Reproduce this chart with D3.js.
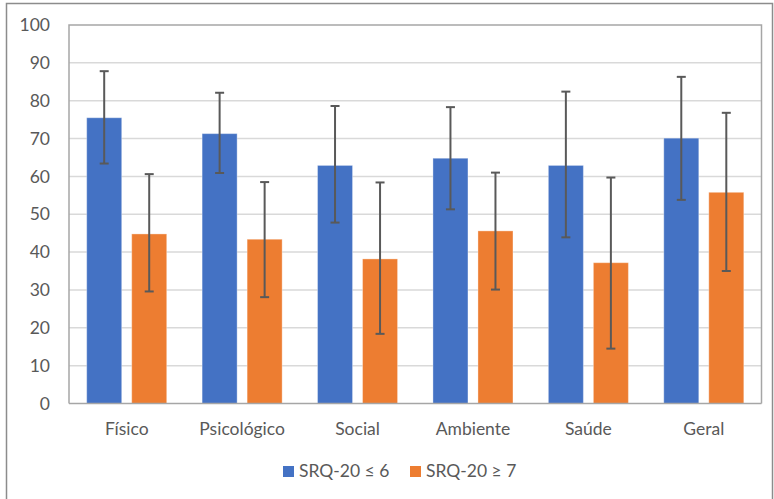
<!DOCTYPE html>
<html>
<head>
<meta charset="utf-8">
<script src="https://cdn.jsdelivr.net/npm/d3@7"></script>
<style>
  html, body { margin: 0; padding: 0; background: #fff; }
  svg { display: block; }
  text { font-family: Lato, "Open Sans", sans-serif; fill: #595959; }
</style>
</head>
<body>
<svg id="chart" width="774" height="499"></svg>
<script>
// ---- data ----
const categories = ["Físico", "Psicológico", "Social", "Ambiente", "Saúde", "Geral"];
const seriesNames = ["SRQ-20 ≤ 6", "SRQ-20 ≥ 7"];
const seriesColors = ["#4472c4", "#ed7d31"];
const lowValues  = [75.5, 71.3, 62.9, 64.8, 62.9, 70.1];
const lowErrTop  = [87.8, 82.1, 78.6, 78.3, 82.4, 86.3];
const lowErrBot  = [63.4, 60.9, 47.8, 51.3, 43.9, 53.8];
const highValues = [44.8, 43.4, 38.2, 45.6, 37.2, 55.8];
const highErrTop = [60.6, 58.5, 58.4, 61.0, 59.7, 76.8];
const highErrBot = [29.6, 28.1, 18.4, 30.1, 14.5, 35.0];
const yTicks = [0, 10, 20, 30, 40, 50, 60, 70, 80, 90, 100];

const seriesData = [
  { name: seriesNames[0], color: seriesColors[0], values: lowValues, top: lowErrTop, bot: lowErrBot },
  { name: seriesNames[1], color: seriesColors[1], values: highValues, top: highErrTop, bot: highErrBot }
];

// ---- layout ----
const svg = d3.select("#chart");
const L = 69, R = 761.5, T = 25, B = 403.5;
const FS = "17.5px";

// outer frame
svg.append("rect").attr("x", 6.5).attr("y", 3.5).attr("width", 766).attr("height", 510)
  .attr("fill", "none").attr("stroke", "#8c8c8c").attr("stroke-width", 1.5);

const y = d3.scaleLinear().domain([0, 100]).range([B, T]);
const x0 = d3.scaleBand().domain(categories).range([L, R]).padding(0);
const x1 = d3.scaleBand().domain(seriesNames).range([0, x0.bandwidth()])
  .paddingInner(0.222).paddingOuter(0.393);

// gridlines
svg.append("g").selectAll("line").data(yTicks.filter(t => t > 0 && t < 100)).join("line")
  .attr("x1", L).attr("x2", R).attr("y1", d => y(d)).attr("y2", d => y(d))
  .attr("stroke", "#d9d9d9").attr("stroke-width", 1.5);

// plot area border
svg.append("path")
  .attr("d", `M${L},${B}V${T}H${R}V${B}`)
  .attr("fill", "none").attr("stroke", "#a6a6a6").attr("stroke-width", 1.5);

// y axis labels
const yAxis = d3.axisLeft(y).tickValues(yTicks).tickSize(0).tickPadding(19);
const ya = svg.append("g").attr("transform", `translate(${L},0)`).call(yAxis);
ya.select(".domain").remove();
ya.selectAll("text").style("font-family", "Lato, 'Open Sans', sans-serif")
  .style("font-size", FS).attr("fill", "#595959");

// bars
const groups = svg.append("g").selectAll("g").data(seriesData).join("g");
groups.selectAll("rect").data(s => s.values.map((v, i) => ({ s, v, i }))).join("rect")
  .attr("x", d => x0(categories[d.i]) + x1(d.s.name))
  .attr("width", x1.bandwidth())
  .attr("y", d => y(d.v))
  .attr("height", d => B - y(d.v))
  .attr("fill", d => d.s.color)
  .attr("stroke", "#fff").attr("stroke-opacity", 0.35).attr("stroke-width", 1);

// x axis
svg.append("line").attr("x1", L).attr("x2", R).attr("y1", B).attr("y2", B)
  .attr("stroke", "#a6a6a6").attr("stroke-width", 1.5);
const xAxis = d3.axisBottom(x0).tickSize(0).tickPadding(19);
const xa = svg.append("g").attr("transform", `translate(0,${B})`).call(xAxis);
xa.select(".domain").remove();
xa.selectAll("text").style("font-family", "Lato, 'Open Sans', sans-serif")
  .style("font-size", FS).attr("fill", "#595959");

// error bars
const capW = 9;
const eb = svg.append("g");
seriesData.forEach(s => {
  s.values.forEach((v, i) => {
    const cx = x0(categories[i]) + x1(s.name) + x1.bandwidth() / 2;
    const g = eb.append("g").attr("stroke", "#595959").attr("stroke-width", 2);
    g.append("line").attr("x1", cx).attr("x2", cx).attr("y1", y(s.top[i])).attr("y2", y(s.bot[i]));
    g.append("line").attr("x1", cx - capW / 2).attr("x2", cx + capW / 2).attr("y1", y(s.top[i])).attr("y2", y(s.top[i]));
    g.append("line").attr("x1", cx - capW / 2).attr("x2", cx + capW / 2).attr("y1", y(s.bot[i])).attr("y2", y(s.bot[i]));
  });
});

// legend
const legendX = [283, 410];
const legendY = 471;
const lg = svg.append("g");
seriesData.forEach((s, k) => {
  lg.append("rect").attr("x", legendX[k]).attr("y", legendY - 5).attr("width", 11).attr("height", 11).attr("fill", s.color);
  lg.append("text").attr("x", legendX[k] + 16).attr("y", legendY).attr("dy", "0.35em")
    .style("font-size", FS).text(s.name);
});
</script>
</body>
</html>
